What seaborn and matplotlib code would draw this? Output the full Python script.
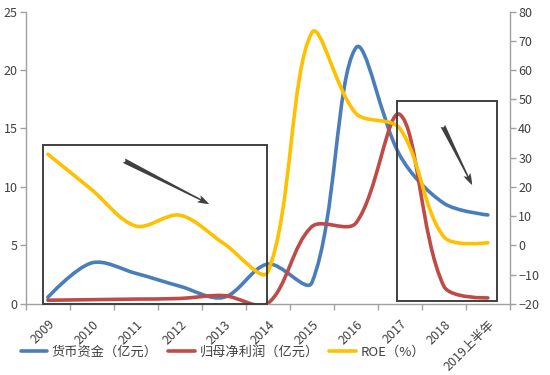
import numpy as np
import pandas as pd
import seaborn as sns
import matplotlib.pyplot as plt
from matplotlib.path import Path
from matplotlib.patches import PathPatch, Rectangle
from matplotlib.lines import Line2D

# data
years = ['2009', '2010', '2011', '2012', '2013', '2014', '2015', '2016', '2017', '2018', '2019上半年']
cash = [0.55, 3.5, 2.6, 1.5, 0.55, 3.4, 1.8, 21.9, 12.7, 8.6, 7.6]      # 货币资金（亿元）
profit = [0.3, 0.35, 0.4, 0.45, 0.7, 0.03, 6.6, 6.9, 16.2, 1.5, 0.5]    # 归母净利润（亿元）
roe = [31.2, 19.0, 6.6, 10.3, 0.6, -9.1, 72.8, 45.2, 40.0, 2.9, 0.9]    # ROE（%）

labels = ['货币资金（亿元）', '归母净利润（亿元）', 'ROE（%）']
colors = ['#4a7ebb', '#be4b48', '#ffc000']

df = pd.DataFrame({'pos': np.arange(len(years)), 'cash': cash, 'profit': profit, 'roe': roe})

sns.set_theme(style='white')
plt.rcParams['font.family'] = ['Noto Sans CJK SC', 'DejaVu Sans']

fig, ax = plt.subplots(figsize=(5.5, 3.75), dpi=100)
fig.subplots_adjust(left=0.047, right=0.927, top=0.969, bottom=0.19)
ax2 = ax.twinx()

ax.set_xlim(-0.5, len(years) - 0.5)
ax.set_ylim(0, 25)
ax2.set_ylim(-20, 80)


def excel_smooth(axis, line, color):
    # turn the seaborn polyline into an Excel-style smoothed Bezier curve
    xy = line.get_xydata()
    pts = axis.transData.transform(xy)
    n = len(pts)
    verts = [pts[0]]
    codes = [Path.MOVETO]
    for i in range(n - 1):
        p0 = pts[i - 1] if i > 0 else pts[i]
        p1, p2 = pts[i], pts[i + 1]
        p3 = pts[i + 2] if i + 2 < n else pts[i + 1]
        d01 = np.hypot(*(p1 - p0))
        d12 = np.hypot(*(p2 - p1))
        d23 = np.hypot(*(p3 - p2))
        f1 = d12 / (d01 + d12) / 3 if d01 > 0 else 0
        f2 = d12 / (d12 + d23) / 3 if d23 > 0 else 0
        c1 = p1 + (p2 - p0) * f1
        c2 = p2 - (p3 - p1) * f2
        verts += [c1, c2, p2]
        codes += [Path.CURVE4] * 3
    verts = axis.transData.inverted().transform(np.array(verts))
    line.remove()
    axis.add_patch(PathPatch(Path(verts, codes), fill=False, edgecolor=color,
                             lw=2.6, capstyle='round', joinstyle='round'))


sns.lineplot(data=df, x='pos', y='cash', ax=ax, color=colors[0])
excel_smooth(ax, ax.lines[-1], colors[0])
sns.lineplot(data=df, x='pos', y='profit', ax=ax, color=colors[1])
excel_smooth(ax, ax.lines[-1], colors[1])
sns.lineplot(data=df, x='pos', y='roe', ax=ax2, color=colors[2])
excel_smooth(ax2, ax2.lines[-1], colors[2])

ax.set_xlim(-0.5, len(years) - 0.5)
ax.set_ylim(0, 25)
ax2.set_ylim(-20, 80)
ax.set_yticks(range(0, 26, 5))
ax2.set_yticks(range(-20, 81, 10))
ax.set_xlabel('')
ax.set_ylabel('')
ax2.set_ylabel('')

# category labels at centres, tick marks at boundaries
ax.set_xticks(np.arange(len(years)))
ax.set_xticklabels(years, rotation=45, ha='right', rotation_mode='anchor')
ax.set_xticks(np.arange(len(years) + 1) - 0.5, minor=True)
ax.tick_params(axis='x', which='major', length=0, pad=10, labelsize=9, colors='#404040')
ax.tick_params(axis='x', which='minor', length=4, width=1, color='#a0a0a0', direction='out', bottom=True)
ax.tick_params(axis='y', length=4, width=1, color='#a0a0a0', labelsize=9, labelcolor='#404040', left=True, pad=2)
ax2.tick_params(axis='y', length=4, width=1, color='#a0a0a0', labelsize=9, labelcolor='#404040', right=True, pad=2)

for a in (ax, ax2):
    a.spines['top'].set_visible(False)
    for s in ('left', 'right', 'bottom'):
        a.spines[s].set_color('#a0a0a0')
        a.spines[s].set_linewidth(1)
ax.spines['right'].set_visible(False)
ax2.spines['left'].set_visible(False)
ax2.spines['bottom'].set_visible(False)

# highlight boxes and arrows (right-axis units)
ax2.add_patch(Rectangle((-0.11, -20.2), 5.08, 54.6, fill=False, edgecolor='#404040',
                        lw=1.4, zorder=5, clip_on=False))
ax2.add_patch(Rectangle((7.93, -19.1), 2.27, 68.5, fill=False, edgecolor='#404040',
                        lw=1.4, zorder=5, clip_on=False))
arrow = dict(arrowstyle='fancy,head_length=0.7,head_width=0.45,tail_width=0.3',
             color='#404040', lw=0)
ax2.annotate('', xy=(3.72, 13.7), xytext=(1.675, 29.4), arrowprops=arrow, zorder=6)
ax2.annotate('', xy=(9.67, 19.8), xytext=(8.95, 41.7), arrowprops=arrow, zorder=6)

handles = [Line2D([], [], color=c, lw=2.6) for c in colors]
fig.legend(handles, labels, loc='center left', bbox_to_anchor=(0.038, 0.061), ncol=3,
           frameon=False, fontsize=9.5, handlelength=2.0, handletextpad=0.35,
           columnspacing=0.8, labelcolor='#404040', borderaxespad=0, borderpad=0)

fig.savefig('out.png', dpi=100)
